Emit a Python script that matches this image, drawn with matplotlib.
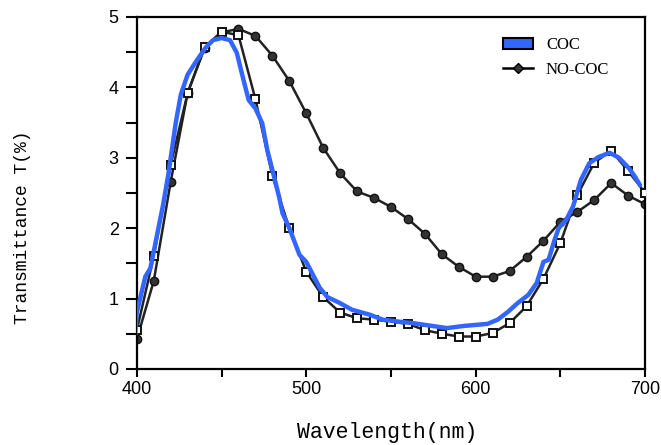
import matplotlib

matplotlib.use("Agg")

import matplotlib.pyplot as plt
from matplotlib.lines import Line2D
from matplotlib.patches import Patch
from matplotlib.ticker import MultipleLocator

# sampled points, 10 nm apart
wavelength = [400, 410, 420, 430, 440, 450, 460, 470, 480, 490, 500, 510, 520,
              530, 540, 550, 560, 570, 580, 590, 600, 610, 620, 630, 640, 650,
              660, 670, 680, 690, 700]
coc = [0.55, 1.6, 2.9, 3.92, 4.57, 4.79, 4.74, 3.83, 2.74, 2.0, 1.38, 1.02, 0.80,
       0.72, 0.70, 0.67, 0.64, 0.55, 0.50, 0.46, 0.46, 0.51, 0.65, 0.89, 1.28, 1.79,
       2.47, 2.93, 3.10, 2.81, 2.50]
no_coc = [0.42, 1.25, 2.66, 3.92, 4.56, 4.78, 4.83, 4.73, 4.45, 4.09, 3.63, 3.14, 2.78,
          2.52, 2.43, 2.30, 2.13, 1.92, 1.63, 1.45, 1.31, 1.31, 1.39, 1.59, 1.82, 2.09,
          2.23, 2.40, 2.64, 2.46, 2.34]

# traced blue COC curve
blue_x = [399, 400, 405, 408, 412.5, 415.5, 418.5, 423, 426, 430, 434.5, 440.5, 445,
          450, 455, 459, 463, 466, 470, 474, 477, 481, 484, 486, 490, 496, 500, 508,
          512.5, 519.5, 527, 537.5, 545, 555, 563, 583, 593, 607, 613, 619, 625, 631,
          636, 640, 643, 646.5, 649, 653.5, 657.5, 662, 667, 672.5, 679, 684.5, 690.5,
          694, 697]
blue_y = [0.48, 0.8, 1.31, 1.43, 1.97, 2.33, 2.75, 3.5, 3.9, 4.18, 4.35, 4.56, 4.67,
          4.70, 4.67, 4.49, 4.10, 3.82, 3.70, 3.49, 3.11, 2.73, 2.44, 2.21, 2.0, 1.62,
          1.52, 1.15, 1.02, 0.94, 0.84, 0.77, 0.70, 0.67, 0.65, 0.58, 0.61, 0.64, 0.70,
          0.81, 0.94, 1.05, 1.22, 1.52, 1.55, 1.83, 2.0, 2.12, 2.31, 2.68, 2.92, 3.01,
          3.07, 3.0, 2.85, 2.73, 2.61]

mono = "Liberation Mono"
sans = "Liberation Sans"
serif = "Liberation Serif"

fig = plt.figure(figsize=(6.61, 4.45), dpi=100)
ax = fig.add_axes([0.207, 0.171, 0.769, 0.791])

ax.plot(wavelength, no_coc, color="#222222", linewidth=1.8, marker="o",
        markersize=6, markerfacecolor="#333333", markeredgecolor="#111111", zorder=2)
ax.plot(wavelength, coc, color="#222222", linewidth=1.8, marker="s",
        markersize=6, markerfacecolor="white", markeredgecolor="#111111",
        markeredgewidth=1.4, zorder=3)
ax.plot(blue_x, blue_y, color="#3366ff", linewidth=3.2, zorder=4,
        solid_capstyle="round")

ax.set_xlim(400, 700)
ax.set_ylim(0, 5)
ax.xaxis.set_major_locator(MultipleLocator(100))
ax.xaxis.set_minor_locator(MultipleLocator(50))
ax.yaxis.set_major_locator(MultipleLocator(1))
ax.yaxis.set_minor_locator(MultipleLocator(0.5))
ax.tick_params(which="both", direction="out", width=1.5, labelsize=13)
ax.tick_params(which="both", axis="x", length=6, pad=3)
ax.tick_params(which="both", axis="y", length=8, pad=5)
for lab in ax.get_xticklabels() + ax.get_yticklabels():
    lab.set_fontfamily(sans)
for spine in ax.spines.values():
    spine.set_linewidth(1.6)

ax.set_xlabel("Wavelength(nm)", fontfamily=mono, fontsize=15.5, va="center")
ax.set_ylabel("Transmittance T(%)", fontfamily=mono, fontsize=13, va="center")
ax.xaxis.set_label_coords(0.492, -0.18)
ax.yaxis.set_label_coords(-0.224, 0.403)

handles = [
    Patch(facecolor="#3366ff", edgecolor="black", linewidth=1.5),
    Line2D([], [], color="black", linewidth=1.8, marker="D", markersize=5,
           markerfacecolor="#333333"),
]
ax.legend(handles, ["COC", "NO-COC"], loc="upper left",
          bbox_to_anchor=(0.69, 0.985), frameon=False,
          prop={"family": serif, "size": 12}, handlelength=1.8, labelspacing=0.5)

fig.savefig("out.png", dpi=100)
